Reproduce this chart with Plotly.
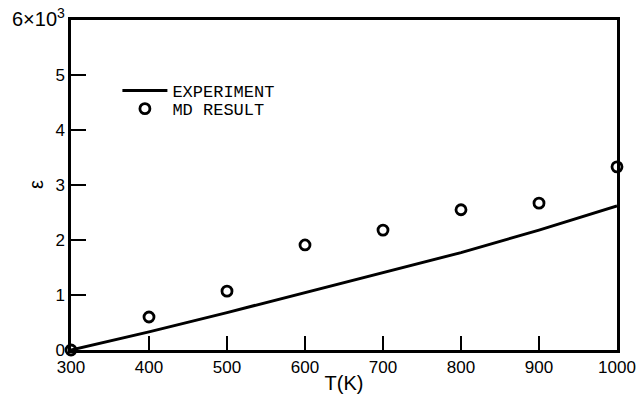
import plotly.graph_objects as go

temps = [300, 400, 500, 600, 700, 800, 900, 1000]
experiment = [0, 330, 680, 1040, 1400, 1770, 2180, 2620]
md_result = [0, 600, 1070, 1910, 2180, 2550, 2670, 3330]

x_ticks = [300, 400, 500, 600, 700, 800, 900, 1000]
y_ticks = [0, 1000, 2000, 3000, 4000, 5000, 6000]
y_ticktext = ["0", "1", "2", "3", "4", "5",
              "<span style='font-size:20px'>6×10<sup>3</sup></span>"]

fig = go.Figure()
fig.add_trace(go.Scatter(
    x=temps, y=experiment, mode="lines", name="EXPERIMENT",
    line=dict(color="black", width=3), cliponaxis=False, legend="legend"))
fig.add_trace(go.Scatter(
    x=temps, y=md_result, mode="markers", name="MD RESULT",
    marker=dict(symbol="circle-open", size=10, color="black", line=dict(width=2.8, color="black")),
    cliponaxis=False, legend="legend2"))

legend_font = dict(family="Liberation Mono", size=17, color="black")
fig.update_layout(
    width=639, height=404,
    margin=dict(l=71, r=22, t=20, b=54, autoexpand=False),
    paper_bgcolor="white", plot_bgcolor="white",
    font=dict(family="Liberation Sans", size=17, color="black"),
    showlegend=True,
    legend=dict(x=0.085, y=0.785, xanchor="left", yanchor="middle", font=legend_font,
                bgcolor="rgba(0,0,0,0)", itemwidth=45),
    legend2=dict(x=0.085, y=0.73, xanchor="left", yanchor="middle", font=legend_font,
                 bgcolor="rgba(0,0,0,0)", itemwidth=45),
    xaxis=dict(range=[300, 1000], tickvals=x_ticks, ticks="inside", ticklen=14, tickwidth=2,
               tickcolor="black", showline=True, linewidth=2.5, linecolor="black", mirror=True,
               showgrid=False, zeroline=False, automargin=False,
               title=dict(text="T(K)", font=dict(size=20), standoff=0)),
    yaxis=dict(range=[0, 6000], tickvals=y_ticks, ticktext=y_ticktext, ticks="inside", ticklen=15,
               tickwidth=2, tickcolor="black", showline=True, linewidth=2.5, linecolor="black",
               mirror=True, showgrid=False, zeroline=False, automargin=False),
    annotations=[dict(text="ε", xref="paper", yref="paper", x=-0.064, y=0.5,
                      xanchor="center", yanchor="middle", textangle=-90, showarrow=False,
                      font=dict(size=20, color="black"))],
)

fig.write_html("out.html", config={"displayModeBar": False},
               post_script="document.body.style.margin='0';")
